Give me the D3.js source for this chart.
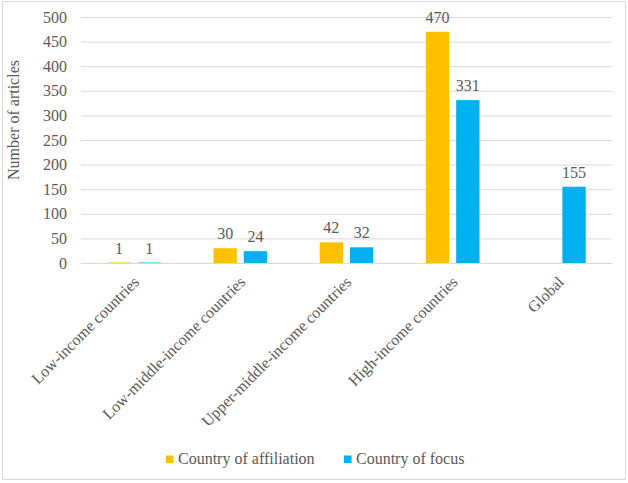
<!DOCTYPE html>
<html><head><meta charset="utf-8">
<script src="https://cdn.jsdelivr.net/npm/d3@7"></script>
<style>body{margin:0;background:#fff}svg{display:block}</style>
</head><body><svg id="c" width="628" height="483"></svg>
<script>
const categories = ["Low-income countries","Low-middle-income countries","Upper-middle-income countries","High-income countries","Global"];
const seriesNames = ["Country of affiliation","Country of focus"];
const affiliation = [1,30,42,470,null];
const focus = [1,24,32,331,155];
const yTicks = [0,50,100,150,200,250,300,350,400,450,500];
const colors = ["#FFC000","#00B0F0"];

(function(){
const FONT = "Times New Roman, Liberation Serif, DejaVu Serif, serif";
const svg = d3.select("#c");
svg.append("rect").attr("x",2.5).attr("y",1.5).attr("width",623).attr("height",478)
  .attr("fill","#fff").attr("stroke","#d9d9d9").attr("stroke-width",1);

const pLeft=81,pRight=612,pTop=17,pBottom=263;
const x0 = d3.scaleBand().domain(categories).range([pLeft,pRight]);
const y = d3.scaleLinear().domain([0,500]).range([pBottom,pTop]);
const gw = x0.bandwidth()*0.505;
const x1 = d3.scaleBand().domain(seriesNames).range([(x0.bandwidth()-gw)/2,(x0.bandwidth()+gw)/2]).paddingInner(0.23);

const yAxis = d3.axisLeft(y).tickValues(yTicks).tickSize(-(pRight-pLeft)).tickPadding(14);
const ga = svg.append("g").attr("transform",`translate(${pLeft},0)`).call(yAxis)
  .attr("font-family",FONT).attr("font-size",16);
ga.select(".domain").remove();
ga.selectAll(".tick line").attr("stroke","#d9d9d9").attr("stroke-width",1);
ga.selectAll(".tick text").attr("font-family",FONT).attr("font-size",16).attr("fill","#595959").attr("dy","0.32em").attr("x",-14);

const series = [affiliation, focus];
series.forEach((vals,si)=>{
  const g = svg.append("g");
  categories.forEach((c,i)=>{
    const v = vals[i];
    if(v==null) return;
    const bx = x0(c)+x1(seriesNames[si]);
    g.append("rect").attr("x",bx).attr("y",y(v)).attr("width",x1.bandwidth()).attr("height",y(0)-y(v)).attr("fill",colors[si]);
    g.append("text").attr("x",bx+x1.bandwidth()/2).attr("y",y(v)-9).attr("text-anchor","middle")
      .attr("font-family",FONT).attr("font-size",16).attr("fill","#595959").text(v);
  });
});

const gx = svg.append("g").attr("transform",`translate(0,${pBottom})`).call(d3.axisBottom(x0).tickSize(0).tickFormat(d=>d))
  .attr("font-family",FONT).attr("font-size",16);
gx.select(".domain").attr("stroke","#d9d9d9");
gx.selectAll(".tick text").attr("font-family",FONT).attr("font-size",16).attr("fill","#595959")
  .attr("text-anchor","end").attr("dy",null).attr("y",0)
  .attr("transform","translate(6,20) rotate(-45)");

svg.append("text").attr("transform","translate(19,120) rotate(-90)").attr("text-anchor","middle")
  .attr("font-family",FONT).attr("font-size",16).attr("fill","#595959").text("Number of articles");

const leg = [{x:166,name:seriesNames[0],c:colors[0]},{x:344,name:seriesNames[1],c:colors[1]}];
leg.forEach(l=>{
  svg.append("rect").attr("x",l.x).attr("y",455.5).attr("width",7.5).attr("height",7.5).attr("fill",l.c);
  svg.append("text").attr("x",l.x+12).attr("y",464).attr("font-family",FONT).attr("font-size",16).attr("fill","#595959").text(l.name);
});
})();
</script></body></html>
